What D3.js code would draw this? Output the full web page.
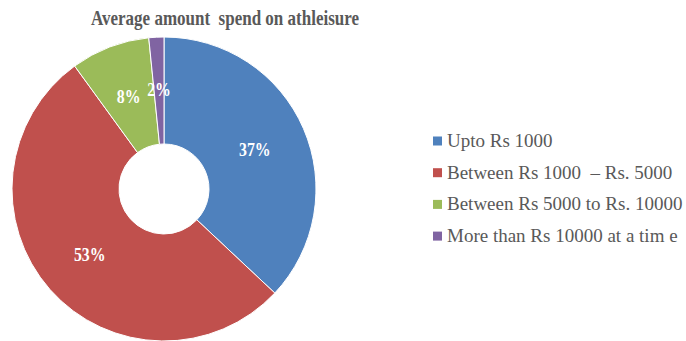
<!DOCTYPE html>
<html>
<head>
<meta charset="utf-8">
<script src="https://cdn.jsdelivr.net/npm/d3@7"></script>
<style>
  body { margin: 0; background: #fff; }
  svg { display: block; }
</style>
</head>
<body>
<div id="chart"></div>
<script>
const width = 686;
const height = 341;

// share of respondents per spend bucket (percent)
const categories = ['Upto Rs 1000', 'Between Rs 1000  \u2013 Rs. 5000', 'Between Rs 5000 to Rs. 10000', 'More than Rs 10000 at a tim e'];
const shares = [37, 53, 8.4, 1.6];
const colors = ['#4F81BD', '#C0504D', '#9BBB59', '#8064A2'];

const serif = 'Liberation Serif';

const svg = d3.select('#chart').append('svg')
    .attr('width', width)
    .attr('height', height);

// title is drawn a bit condensed, like the source
svg.append('text')
    .attr('transform', 'translate(225,25) scale(0.81,1)')
    .attr('text-anchor', 'middle')
    .attr('font-family', serif)
    .attr('font-weight', 'bold')
    .attr('font-size', 21)
    .attr('fill', '#595959')
    .style('white-space', 'pre')
    .text('Average amount  spend on athleisure');

const cx = 164, cy = 189;
const outerR = 152, innerR = 45;

const pie = d3.pie().sort(null).value(d => d);
const arc = d3.arc().innerRadius(innerR).outerRadius(outerR);
const labelArc = d3.arc().innerRadius(99).outerRadius(99);

const g = svg.append('g').attr('transform', `translate(${cx},${cy})`);
const arcs = pie(shares);

g.selectAll('path')
    .data(arcs)
    .enter()
    .append('path')
    .attr('d', arc)
    .attr('fill', (d, i) => colors[i])
    .attr('stroke', '#fff')
    .attr('stroke-width', 1);

g.selectAll('text.pct')
    .data(arcs)
    .enter()
    .append('text')
    .attr('class', 'pct')
    .attr('transform', d => `translate(${labelArc.centroid(d)}) scale(0.88,1)`)
    .attr('text-anchor', 'middle')
    .attr('dy', '0.35em')
    .attr('font-family', serif)
    .attr('font-weight', 'bold')
    .attr('font-size', 18)
    .attr('fill', '#fff')
    .text(d => Math.round(d.data) + '%');

// legend
const legend = svg.append('g').attr('transform', 'translate(433,141)');
const rowH = 31.7;

const item = legend.selectAll('g')
    .data(categories)
    .enter()
    .append('g')
    .attr('transform', (d, i) => `translate(0,${i * rowH})`);

item.append('rect')
    .attr('x', 0)
    .attr('y', -4.5)
    .attr('width', 9)
    .attr('height', 9)
    .attr('fill', (d, i) => colors[i]);

item.append('text')
    .attr('x', 14)
    .attr('y', 6)
    .attr('font-family', serif)
    .attr('font-size', 19)
    .attr('fill', '#595959')
    .style('white-space', 'pre')
    .text(d => d);
</script>
</body>
</html>
